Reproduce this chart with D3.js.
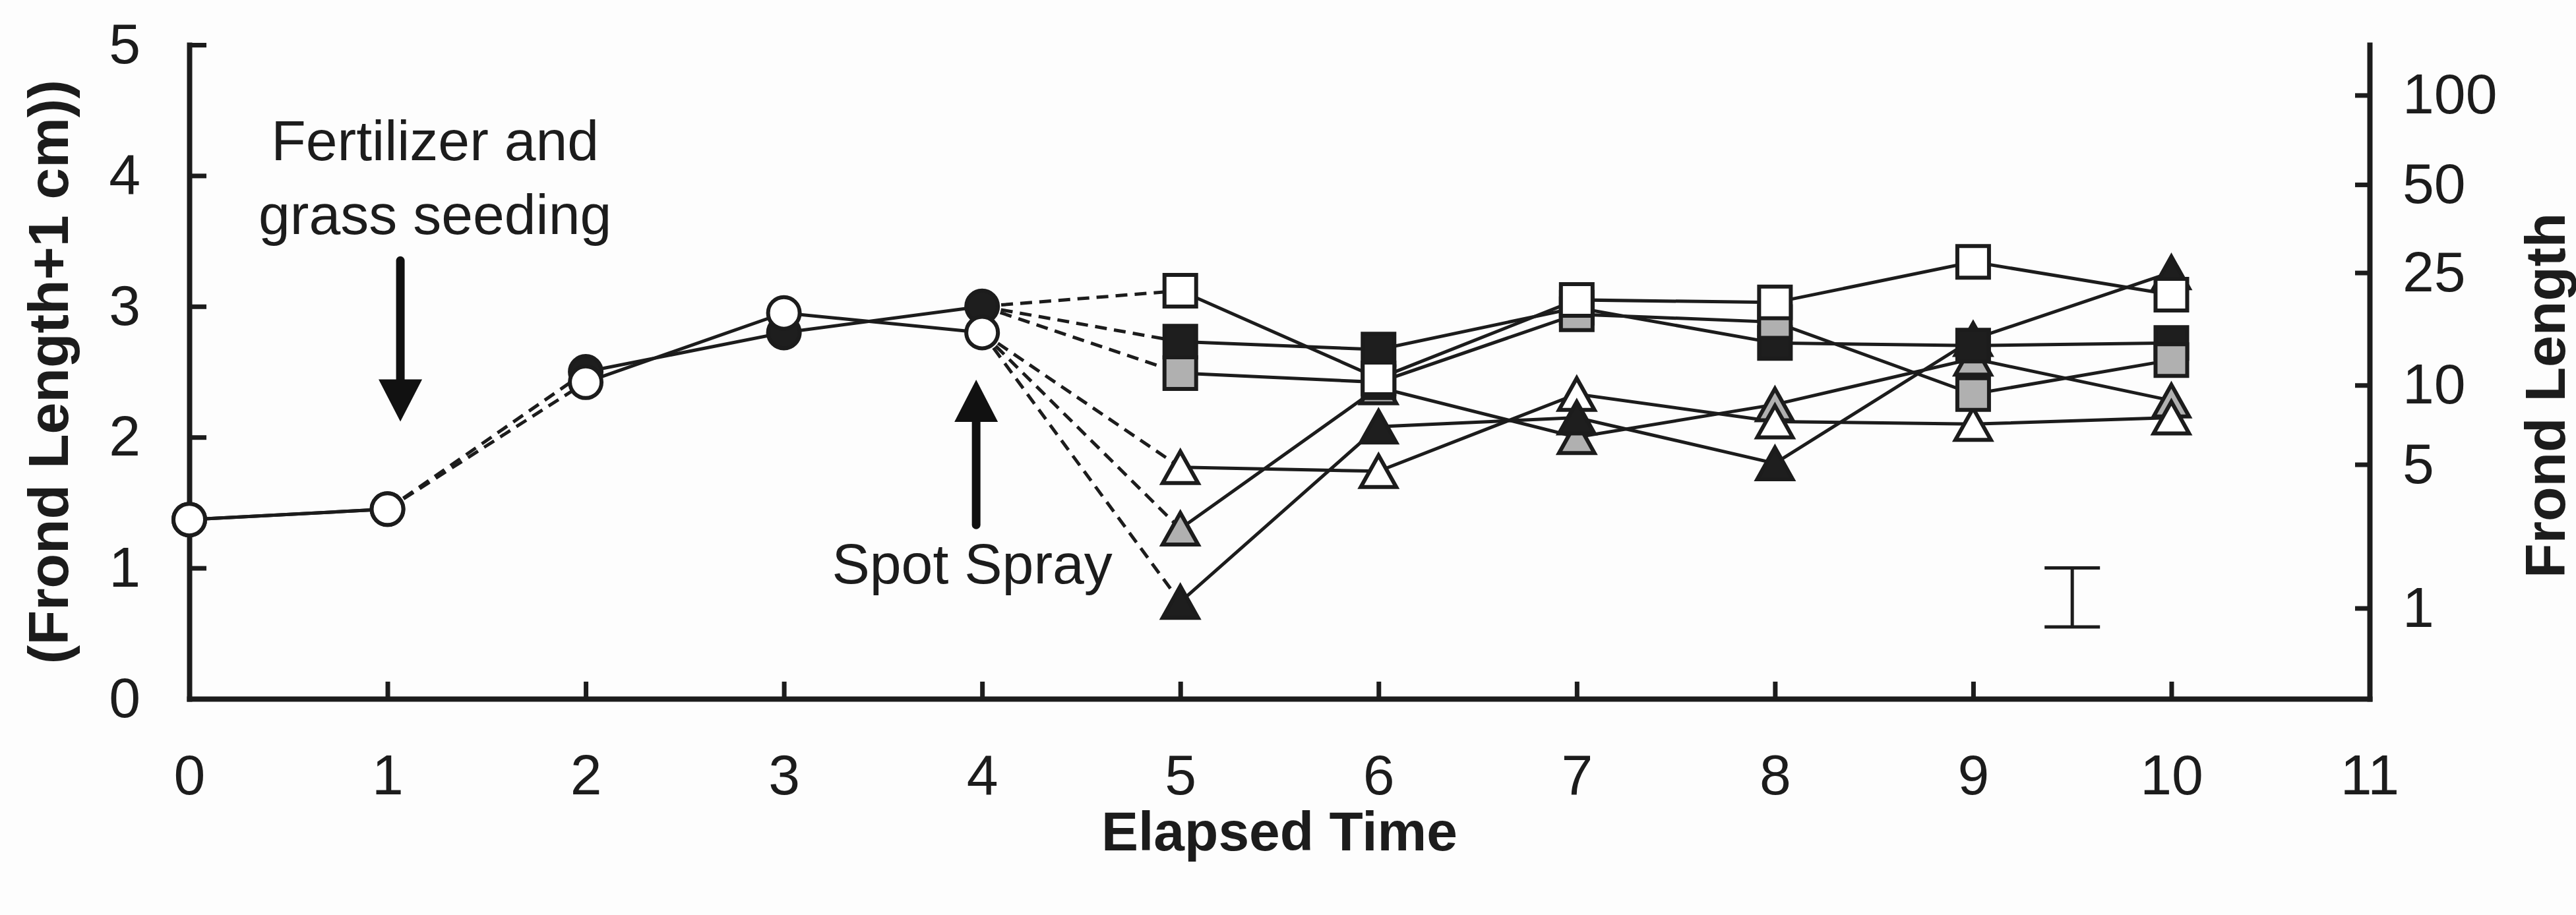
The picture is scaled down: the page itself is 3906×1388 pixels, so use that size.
<!DOCTYPE html>
<html lang="en">
<head>
<meta charset="UTF-8">
<title>Frond Length over Elapsed Time</title>
<script src="https://d3js.org/d3.v7.min.js"></script>
<style>
  body { margin: 0; background: #fdfdfd; }
  text { font-family: "Liberation Sans", Arial, sans-serif; font-size: 86px; fill: #1c1c1c; }
</style>
</head>
<body>
<script>
// ----- data (left axis units: ln(frond length + 1 cm)) -----
var preTimes  = [0, 1, 2, 3, 4];
var postTimes = [5, 6, 7, 8, 9, 10];

var xTicks     = [0, 1, 2, 3, 4, 5, 6, 7, 8, 9, 10, 11];
var yTicks     = [0, 1, 2, 3, 4, 5];
var rightTicks = [1, 5, 10, 25, 50, 100];   // frond length, cm

// before the spot spray
var circleDark = [1.37, 1.45, 2.50, 2.80, 3.00];
var circleOpen = [1.37, 1.45, 2.42, 2.95, 2.80];

// after the spot spray
var squareOpen    = [3.12, 2.45, 3.05, 3.03, 3.34, 3.09];
var squareBlack   = [2.73, 2.67, 2.99, 2.72, 2.70, 2.72];
var squareGray    = [2.49, 2.42, 2.94, 2.88, 2.33, 2.59];
var triangleOpen  = [1.77, 1.74, 2.33, 2.12, 2.10, 2.15];
var triangleGray  = [1.30, 2.38, 2.00, 2.25, 2.60, 2.28];
var triangleBlack = [0.74, 2.08, 2.15, 1.80, 2.75, 3.26];

// error bar drawn near the bottom right
var errorBarX = 9.5;
var errorBarRange = [0.55, 1.0];

// ----- drawing -----
var width = 3906, height = 1388;
var ink = "#1c1c1c";

var svg = d3.select("body").append("svg")
    .attr("width", width)
    .attr("height", height);

svg.append("rect").attr("width", width).attr("height", height).attr("fill", "#fdfdfd");

var x = d3.scaleLinear().domain([0, 11]).range([287, 3593]);
var y = d3.scaleLinear().domain([0, 5]).range([1060, 68]);
// right axis shows frond length itself: position = ln(length + 1)
var yRight = d3.scaleSymlog().constant(1).domain([0, Math.expm1(5)]).range([1060, 68]);

function styleAxis(g) {
    g.select(".domain").attr("stroke", ink).attr("stroke-width", 8).attr("stroke-linecap", "square");
    g.selectAll(".tick line").attr("stroke", ink).attr("stroke-width", 7);
}

svg.append("g")
    .attr("transform", "translate(0," + y(0) + ")")
    .call(d3.axisBottom(x).tickValues(xTicks).tickSize(-26).tickSizeOuter(0).tickPadding(84).tickFormat(d3.format("d")))
    .call(styleAxis);

svg.append("g")
    .attr("transform", "translate(" + x(0) + ",0)")
    .call(d3.axisLeft(y).tickValues(yTicks).tickSize(-26).tickSizeOuter(0).tickPadding(74).tickFormat(d3.format("d")))
    .call(styleAxis);

svg.append("g")
    .attr("transform", "translate(" + x(11) + ",0)")
    .call(d3.axisRight(yRight).tickValues(rightTicks).tickSize(-22).tickSizeOuter(0).tickPadding(50).tickFormat(d3.format("d")))
    .call(styleAxis);

// axis titles
svg.append("text")
    .attr("transform", "translate(103," + y(2.5) + ") rotate(-90)")
    .attr("text-anchor", "middle")
    .style("font-weight", "bold")
    .text("(Frond Length+1 cm))");

svg.append("text")
    .attr("transform", "translate(3889,600) rotate(-90)")
    .attr("text-anchor", "middle")
    .style("font-weight", "bold")
    .text("Frond Length");

svg.append("text")
    .attr("x", x(5.5))
    .attr("y", 1290)
    .attr("text-anchor", "middle")
    .style("font-weight", "bold")
    .style("font-size", "84px")
    .text("Elapsed Time");

// ----- series -----
var dark = "#1e1e1e", gray = "#b0b0b0", open = "#ffffff";

var preSeries = [
    {values: circleDark, fill: dark},
    {values: circleOpen, fill: open}
];

// triangles first so the squares sit on top where they overlap
var postSeries = [
    {values: triangleGray,  shape: "triangle", fill: gray, start: circleOpen},
    {values: triangleOpen,  shape: "triangle", fill: open, start: circleOpen},
    {values: triangleBlack, shape: "triangle", fill: dark, start: circleOpen},
    {values: squareBlack,   shape: "square",   fill: dark, start: circleDark},
    {values: squareGray,    shape: "square",   fill: gray, start: circleDark},
    {values: squareOpen,    shape: "square",   fill: open, start: circleDark}
];

var line = d3.line().x(function(d) { return x(d[0]); }).y(function(d) { return y(d[1]); });

var lines = svg.append("g")
    .attr("fill", "none")
    .attr("stroke", ink)
    .attr("stroke-width", 5);

preSeries.forEach(function(s) {
    var pts = preTimes.map(function(t, i) { return [t, s.values[i]]; });
    // solid before fertilizer, dashed across it, solid afterwards
    lines.append("path").attr("d", line(pts.slice(0, 2)));
    lines.append("path").attr("d", line(pts.slice(1, 3))).attr("stroke-dasharray", "18,11");
    lines.append("path").attr("d", line(pts.slice(2)));
});

postSeries.forEach(function(s) {
    var last = preTimes.length - 1;
    var pts = postTimes.map(function(t, i) { return [t, s.values[i]]; });
    lines.append("path")
        .attr("d", line([[preTimes[last], s.start[last]], pts[0]]))
        .attr("stroke-dasharray", "18,11");
    lines.append("path").attr("d", line(pts));
});

// marker shapes
var boxTriangle = {
    draw: function(context, size) {
        var h = Math.sqrt(size) / 2, w = h * 1.12;
        context.moveTo(0, -h);
        context.lineTo(w, h);
        context.lineTo(-w, h);
        context.closePath();
    }
};
var shapes = {
    circle:   d3.symbol().type(d3.symbolCircle).size(Math.PI * 24 * 24),
    square:   d3.symbol().type(d3.symbolSquare).size(48 * 48),
    triangle: d3.symbol().type(boxTriangle).size(48 * 48)
};

function drawMarkers(times, values, shape, fill) {
    svg.append("g")
        .selectAll("path")
        .data(times.map(function(t, i) { return [t, values[i]]; }))
        .join("path")
        .attr("transform", function(d) { return "translate(" + x(d[0]) + "," + y(d[1]) + ")"; })
        .attr("d", shapes[shape])
        .attr("fill", fill)
        .attr("stroke", ink)
        .attr("stroke-width", 6)
        .attr("stroke-linejoin", "miter");
}

preSeries.forEach(function(s) { drawMarkers(preTimes, s.values, "circle", s.fill); });
postSeries.forEach(function(s) { drawMarkers(postTimes, s.values, s.shape, s.fill); });

// ----- error bar -----
var eb = svg.append("g").attr("stroke", ink).attr("stroke-width", 5);
eb.append("line")
    .attr("x1", x(errorBarX)).attr("x2", x(errorBarX))
    .attr("y1", y(errorBarRange[0])).attr("y2", y(errorBarRange[1]));
errorBarRange.forEach(function(v) {
    eb.append("line")
        .attr("x1", x(errorBarX) - 42).attr("x2", x(errorBarX) + 42)
        .attr("y1", y(v)).attr("y2", y(v));
});

// ----- annotations -----
var notes = [
    {lines: ["Fertilizer and", "grass seeding"], x: 1.24, y: 4.12, arrowX: 1.065, from: 3.35, tip: 2.12},
    {lines: ["Spot Spray"], x: 3.95, y: 0.88, arrowX: 3.97, from: 1.33, tip: 2.44}
];

notes.forEach(function(n) {
    n.lines.forEach(function(t, i) {
        svg.append("text")
            .attr("x", x(n.x))
            .attr("y", y(n.y) + i * 112)
            .attr("text-anchor", "middle")
            .text(t);
    });
    var dir = n.tip < n.from ? 1 : -1;          // 1 = arrow points down
    var tipY = y(n.tip), headH = 64, headW = 33;
    svg.append("line")
        .attr("x1", x(n.arrowX)).attr("x2", x(n.arrowX))
        .attr("y1", y(n.from)).attr("y2", tipY - dir * (headH - 4))
        .attr("stroke", "#111").attr("stroke-width", 13).attr("stroke-linecap", "round");
    svg.append("path")
        .attr("d", "M" + x(n.arrowX) + "," + tipY +
                   "L" + (x(n.arrowX) - headW) + "," + (tipY - dir * headH) +
                   "L" + (x(n.arrowX) + headW) + "," + (tipY - dir * headH) + "Z")
        .attr("fill", "#111");
});
</script>
</body>
</html>
